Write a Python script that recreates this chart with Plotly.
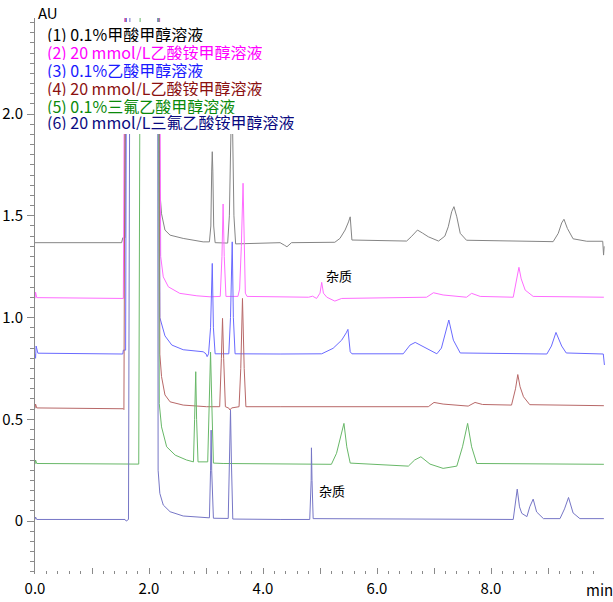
import plotly.graph_objects as go

# ---------------- data ----------------
# retention time (min) and absorbance (AU) vertices for each trace
t1 = [0.00, 1.52, 1.54, 1.58, 1.60, 2.17, 2.19, 2.22, 2.28, 2.37, 2.60, 2.95, 3.06, 3.085, 3.10, 3.11, 3.12, 3.135, 3.16,
      3.38, 3.41, 3.44, 3.45, 3.46, 3.49, 3.52, 4.30, 4.38, 4.42, 4.50, 5.26, 5.35, 5.44, 5.50, 5.53, 5.56, 6.52, 6.60,
      6.71, 6.80, 6.90, 7.08, 7.19, 7.25, 7.31, 7.35, 7.40, 7.46, 7.57, 9.09, 9.18, 9.24, 9.28, 9.34, 9.44, 9.68, 9.96,
      9.975, 9.985]
a1 = [1.368, 1.368, 1.392, 1.392, 3.0, 3.0, 1.62, 1.51, 1.43, 1.405, 1.389, 1.372, 1.372, 1.45, 1.72, 1.815, 1.72, 1.45, 1.368,
      1.366, 1.50, 2.05, 2.10, 2.05, 1.50, 1.362, 1.368, 1.355, 1.348, 1.368, 1.37, 1.389, 1.43, 1.47, 1.495, 1.381, 1.376, 1.397,
      1.43, 1.415, 1.397, 1.376, 1.40, 1.446, 1.52, 1.545, 1.495, 1.414, 1.38, 1.373, 1.414, 1.465, 1.483, 1.438, 1.387, 1.375, 1.375,
      1.307, 1.35]

t2 = [0.00, 0.01, 0.03, 1.55, 1.58, 2.18, 2.205, 2.25, 2.34, 2.54, 2.84, 3.07, 3.25, 3.28, 3.30, 3.32, 3.35, 3.56, 3.59,
      3.62, 3.65, 3.67, 3.69, 3.72, 4.12, 4.80, 4.87, 4.94, 5.00, 5.03, 5.06, 5.12, 5.26, 5.38, 6.87, 6.99, 7.16, 7.57,
      7.66, 7.81, 8.39, 8.45, 8.49, 8.53, 8.60, 8.74, 9.98]
a2 = [1.094, 1.125, 1.098, 1.094, 3.0, 3.0, 1.30, 1.20, 1.151, 1.119, 1.107, 1.102, 1.104, 1.30, 1.558, 1.30, 1.104, 1.104, 1.14,
      1.35, 1.66, 1.40, 1.12, 1.104, 1.102, 1.10, 1.105, 1.094, 1.12, 1.173, 1.12, 1.10, 1.081, 1.094, 1.10, 1.122, 1.111, 1.10,
      1.119, 1.104, 1.10, 1.18, 1.247, 1.19, 1.135, 1.104, 1.10]

t3 = [0.00, 0.01, 0.02, 0.05, 1.54, 1.55, 1.59, 1.61, 2.17, 2.19, 2.28, 2.40, 2.60, 2.95, 3.00, 3.02, 3.045, 3.08, 3.11,
      3.13, 3.16, 3.40, 3.43, 3.46, 3.48, 3.51, 4.30, 5.03, 5.23, 5.38, 5.46, 5.49, 5.53, 5.56, 6.46, 6.58, 6.67, 6.81,
      7.05, 7.13, 7.21, 7.26, 7.34, 7.46, 8.98, 9.06, 9.14, 9.24, 9.32, 9.97, 9.99]
a3 = [0.821, 0.80, 0.86, 0.825, 0.821, 0.84, 0.84, 3.0, 3.0, 1.00, 0.91, 0.865, 0.842, 0.832, 0.822, 0.808, 0.822, 0.95, 1.266,
      0.95, 0.822, 0.822, 1.0, 1.372, 1.0, 0.822, 0.821, 0.822, 0.849, 0.889, 0.925, 0.942, 0.832, 0.822, 0.822, 0.865, 0.878, 0.857,
      0.822, 0.85, 0.93, 0.988, 0.889, 0.826, 0.821, 0.86, 0.927, 0.86, 0.826, 0.821, 0.767]

t4 = [0.00, 0.01, 0.03, 1.55, 1.56, 1.59, 2.17, 2.19, 2.22, 2.28, 2.37, 2.60, 3.01, 3.24, 3.27, 3.29, 3.31, 3.34, 3.40,
      3.42, 3.45, 3.58, 3.61, 3.64, 3.67, 3.70, 4.30, 6.90, 7.00, 7.16, 7.60, 7.72, 7.85, 8.36, 8.43, 8.47, 8.51, 8.57,
      8.68, 9.98]
a4 = [0.554, 0.575, 0.556, 0.552, 0.548, 3.0, 3.0, 0.82, 0.71, 0.62, 0.586, 0.57, 0.562, 0.562, 0.80, 0.996, 0.80, 0.562, 0.555,
      0.546, 0.556, 0.562, 0.75, 1.094, 0.75, 0.562, 0.562, 0.562, 0.583, 0.575, 0.565, 0.583, 0.573, 0.57, 0.65, 0.72, 0.66, 0.611,
      0.572, 0.567]

t5 = [0.00, 0.01, 0.03, 1.82, 1.85, 2.16, 2.18, 2.22, 2.31, 2.46, 2.66, 2.78, 2.80, 2.82, 2.835, 2.86, 3.03, 3.06, 3.08,
      3.10, 3.13, 3.30, 4.30, 5.20, 5.29, 5.38, 5.42, 5.47, 5.53, 6.55, 6.66, 6.77, 6.93, 7.16, 7.40, 7.50, 7.59, 7.66,
      7.75, 9.98]
a5 = [0.28, 0.30, 0.283, 0.28, 3.0, 3.0, 0.578, 0.463, 0.365, 0.324, 0.30, 0.291, 0.50, 0.734, 0.50, 0.291, 0.291, 0.60, 0.83,
      0.60, 0.285, 0.283, 0.28, 0.279, 0.333, 0.43, 0.48, 0.365, 0.285, 0.27, 0.30, 0.316, 0.28, 0.259, 0.27, 0.365, 0.48, 0.365,
      0.283, 0.279]

t6 = [0.00, 0.01, 0.03, 1.58, 1.60, 1.64, 1.67, 2.15, 2.16, 2.19, 2.25, 2.37, 2.60, 3.01, 3.06, 3.08, 3.09, 3.10, 3.13,
      3.39, 3.415, 3.43, 3.445, 3.47, 4.30, 4.82, 4.845, 4.85, 4.86, 4.88, 8.39, 8.43, 8.46, 8.50, 8.54, 8.63, 8.68, 8.74,
      8.80, 8.92, 9.21, 9.29, 9.36, 9.44, 9.56, 9.98]
a6 = [0.008, 0.02, 0.008, 0.008, 0.0, 0.008, 3.0, 3.0, 0.25, 0.136, 0.079, 0.046, 0.025, 0.016, 0.016, 0.25, 0.447, 0.25, 0.014,
      0.013, 0.30, 0.545, 0.30, 0.01, 0.008, 0.008, 0.20, 0.36, 0.20, 0.012, 0.008, 0.09, 0.157, 0.07, 0.038, 0.022, 0.07, 0.108,
      0.045, 0.012, 0.012, 0.06, 0.116, 0.04, 0.012, 0.012]

series_names = ["(1) 0.1%甲酸甲醇溶液", "(2) 20 mmol/L乙酸铵甲醇溶液", "(3) 0.1%乙酸甲醇溶液",
                "(4) 20 mmol/L乙酸铵甲醇溶液", "(5) 0.1%三氟乙酸甲醇溶液", "(6) 20 mmol/L三氟乙酸铵甲醇溶液"]
line_colors = ["#858585", "#ff6cff", "#6a6aff", "#b86868", "#68b868", "#7676c6"]
label_colors = ["#000000", "#ff00ff", "#1a1aff", "#8b1010", "#0a8a0a", "#0a0a80"]

x_tickvals = [0, 1, 2, 3, 4, 5, 6, 7, 8, 9, 10]
x_ticktext = ["0.0", "", "2.0", "", "4.0", "", "6.0", "", "8.0", "", ""]
y_tickvals = [0, 0.5, 1.0, 1.5, 2.0]
y_ticktext = ["0", "0.5", "1.0", "1.5", "2.0"]

# ---------------- layout geometry (window pixels) ----------------
W, H = 613, 602
PLOT_L, PLOT_R, PLOT_T, PLOT_B = 35, 605, 18, 574
L, T, R, B = PLOT_L, PLOT_T, W - PLOT_R, H - PLOT_B
PW, PH = W - L - R, H - T - B
FONT = "Noto Sans CJK SC"


def px(x):  # window pixel -> paper fraction
    return (x - L) / PW


def py(y):
    return (H - B - y) / PH


fig = go.Figure()
for t, a, c in zip([t1, t2, t3, t4, t5, t6], [a1, a2, a3, a4, a5, a6], line_colors):
    fig.add_trace(go.Scatter(x=t, y=a, mode="lines", line=dict(color=c, width=1), hoverinfo="skip"))

# white box behind the text legend
fig.add_shape(type="rect", xref="paper", yref="paper", x0=px(38), x1=px(300), y0=py(134), y1=py(22),
              fillcolor="white", line=dict(width=0), layer="above")

legend_y = [33.5, 51.5, 69.5, 87.5, 105, 122]
for name, col, yy in zip(series_names, label_colors, legend_y):
    fig.add_annotation(text=name, xref="paper", yref="paper", x=px(46), y=py(yy), xanchor="left", yanchor="middle",
                       showarrow=False, borderpad=0, height=17, valign="middle",
                       font=dict(family=FONT, size=16, color=col))

fig.add_annotation(text="AU", xref="paper", yref="paper", x=px(36), y=py(12), xanchor="left", yanchor="middle",
                   showarrow=False, font=dict(family=FONT, size=15, color="black"))
fig.add_annotation(text="min", xref="paper", yref="paper", x=px(599), y=py(589), xanchor="center", yanchor="middle",
                   showarrow=False, font=dict(family=FONT, size=15, color="black"))
fig.add_annotation(text="杂质", xref="paper", yref="paper", x=px(339), y=py(275), xanchor="center", yanchor="middle",
                   showarrow=False, font=dict(family=FONT, size=13, color="black"))
fig.add_annotation(text="杂质", xref="paper", yref="paper", x=px(332), y=py(490), xanchor="center", yanchor="middle",
                   showarrow=False, font=dict(family=FONT, size=13, color="black"))

fig.update_layout(
    width=W, height=H, margin=dict(l=L, r=R, t=T, b=B, pad=0, autoexpand=False),
    paper_bgcolor="white", plot_bgcolor="white", showlegend=False,
    font=dict(family=FONT, size=15, color="black"),
    xaxis=dict(range=[0, 10.0], tickmode="array", tickvals=x_tickvals, ticktext=x_ticktext,
               ticks="inside", ticklen=6, tickcolor="#8a8a8a", tickwidth=1, automargin=False,
               minor=dict(tickmode="linear", tick0=0, dtick=0.2, ticks="inside", ticklen=3, tickcolor="#8a8a8a"),
               showline=False, showgrid=False, zeroline=False, ticklabelstandoff=4,
               tickfont=dict(family=FONT, size=15, color="black")),
    yaxis=dict(range=[-0.26, 2.472], tickmode="array", tickvals=y_tickvals, ticktext=y_ticktext,
               ticks="outside", ticklen=7, tickcolor="#8a8a8a", tickwidth=1, automargin=False,
               minor=dict(tickmode="linear", tick0=0, dtick=0.05, ticks="outside", ticklen=4, tickcolor="#8a8a8a"),
               showline=True, linecolor="#8a8a8a", linewidth=1, showgrid=False, zeroline=False,
               ticklabelstandoff=1, tickfont=dict(family=FONT, size=15, color="black")),
)

# remove the browser's default page margin so the figure sits at the window corner
fig.write_html("out.html", config={"displayModeBar": False},
               post_script="document.body.style.margin='0';document.body.style.overflow='hidden';")
